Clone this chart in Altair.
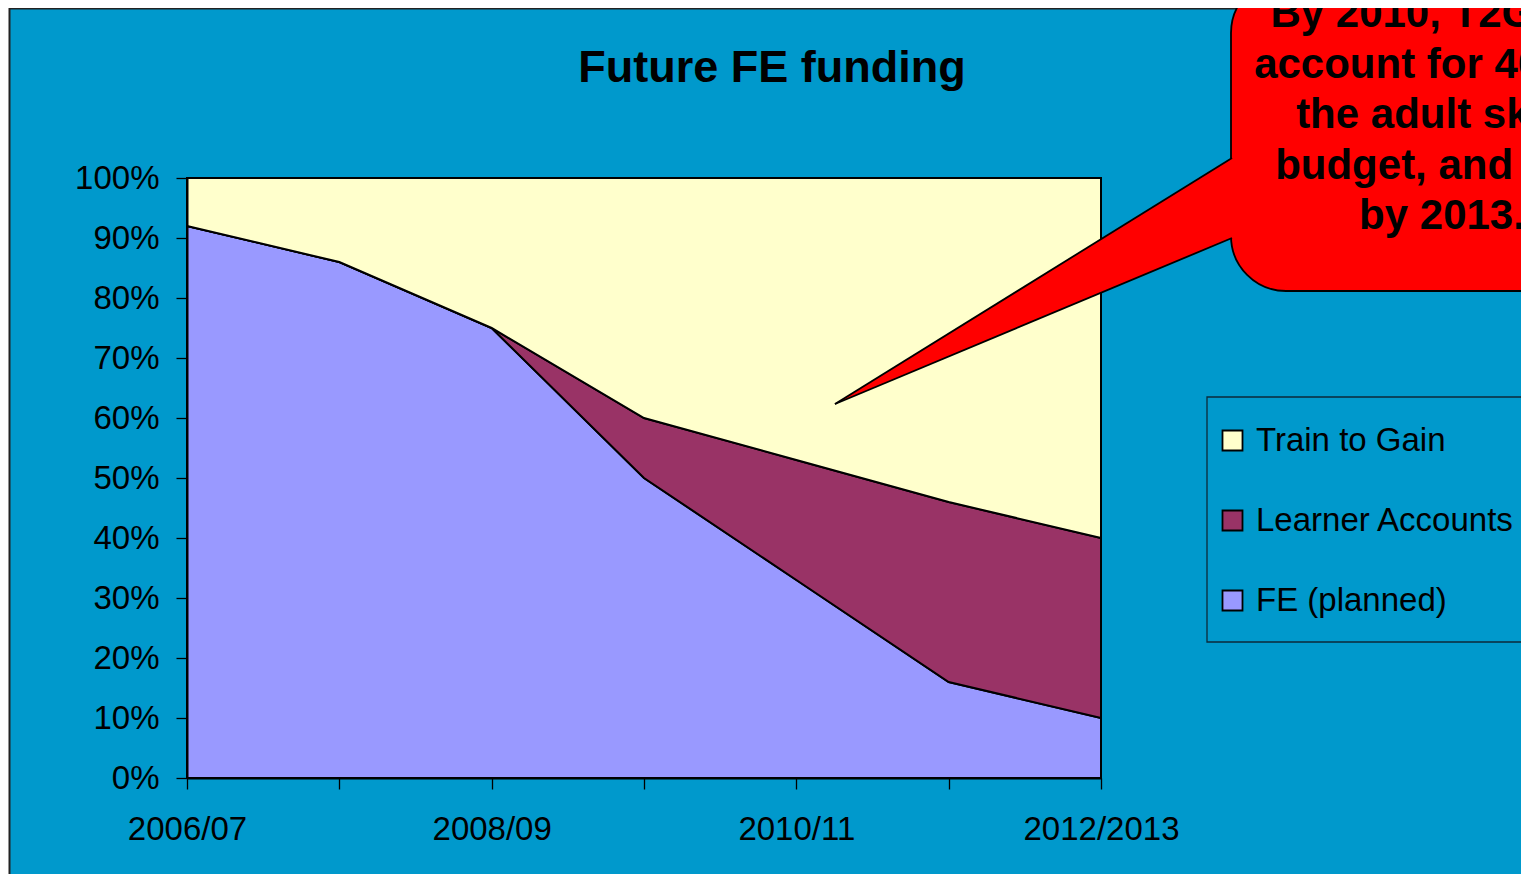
import altair as alt
import pandas as pd

# ---- data ----
years = ["2006/07", "2007/08", "2008/09", "2009/10", "2010/11", "2011/12", "2012/2013"]
fe_planned = [92, 86, 75, 50, 33, 16, 10]
learner_accounts = [0, 0, 0, 10, 20, 30, 30]
train_to_gain = [8, 14, 25, 40, 47, 54, 60]
series_names = ["Train to Gain", "Learner Accounts", "FE (planned)"]
series_colors = ["#FFFFCC", "#993366", "#9999FF"]
y_ticks = [0, 10, 20, 30, 40, 50, 60, 70, 80, 90, 100]
hidden_labels = ["2007/08", "2009/10", "2011/12"]
title_text = "Future FE funding"
callout_lines = ["By 2010, T2G will", "account for 40% of", "the adult skills",
                 "budget, and 60%", "by 2013."]

rows = []
for i, yr in enumerate(years):
    rows.append({"year": yr, "series": "FE (planned)", "value": fe_planned[i], "ord": 0})
    rows.append({"year": yr, "series": "Learner Accounts", "value": learner_accounts[i], "ord": 1})
    rows.append({"year": yr, "series": "Train to Gain", "value": train_to_gain[i], "ord": 2})
df = pd.DataFrame(rows)

FONT = "Liberation Sans"
W, H = 914, 600          # plot area
PAD_L, PAD_T = 179, 170
TOTAL_W, TOTAL_H = 1513, 866

# ---- background panel (decoration, pixel coords relative to plot) ----
bg = alt.Chart(pd.DataFrame({"a": [0]})).mark_rect(
    fill="#0099CC", stroke="#222222", strokeWidth=2
).encode(
    x=alt.value(-PAD_L + 1.5), x2=alt.value(TOTAL_W),
    y=alt.value(-PAD_T + 0.5), y2=alt.value(TOTAL_H),
)

# ---- stacked areas ----
areas = alt.Chart(df).mark_area(
    stroke="black", strokeWidth=2, opacity=1, interpolate="linear"
).encode(
    x=alt.X("year:O", sort=years, scale=alt.Scale(type="point", padding=0),
            axis=alt.Axis(title=None, labelAngle=0, labelFont=FONT, labelFontSize=33,
                          labelColor="black", tickColor="black", tickSize=11,
                          tickWidth=1.3, domainColor="black", domainWidth=2,
                          labelPadding=24, zindex=1,
                          labelExpr="indexof(" + str(hidden_labels) + ", datum.label) >= 0 ? '' : datum.label")),
    y=alt.Y("value:Q", stack="zero", scale=alt.Scale(domain=[0, 100], nice=False),
            axis=alt.Axis(title=None, values=y_ticks, labelExpr="datum.value + '%'",
                          labelFont=FONT, labelFontSize=33, labelColor="black",
                          tickColor="black", tickSize=11, tickWidth=1.3,
                          domainColor="black", domainWidth=2, labelPadding=17,
                          grid=False, zindex=1)),
    color=alt.Color("series:N",
                    scale=alt.Scale(domain=series_names, range=series_colors),
                    legend=alt.Legend(orient="none", legendX=1029, legendY=246,
                                      title=None, symbolType="square", symbolSize=400,
                                      symbolStrokeColor="black", symbolStrokeWidth=1.8,
                                      symbolOpacity=1, labelFont=FONT, labelFontSize=33,
                                      labelColor="black", labelOffset=7, labelLimit=0,
                                      rowPadding=46, padding=0, offset=0, zindex=1)),
    order=alt.Order("ord:Q", sort="ascending"),
)

# ---- legend frame ----
legend_box = alt.Chart(pd.DataFrame({"a": [0]})).mark_rect(
    fill=None, stroke="#0b2a3a", strokeWidth=1.3
).encode(
    x=alt.value(1020), x2=alt.value(1336), y=alt.value(219), y2=alt.value(464)
)

# ---- callout ----
callout_box = alt.Chart(pd.DataFrame({"a": [0]})).mark_rect(
    fill="#FF0000", stroke="black", strokeWidth=1.8, cornerRadius=55
).encode(
    x=alt.value(1044), x2=alt.value(1500), y=alt.value(-200), y2=alt.value(113)
)

tip = (648, 226)
up_base = (1045, -20)
lo_base = (1045, 60)
ext = 6
def along(p0, p1, xn):
    t = (xn - p0[0]) / (p1[0] - p0[0])
    return p0[1] + t * (p1[1] - p0[1])

tri_fill = pd.DataFrame({
    "px": [tip[0], up_base[0] + ext],
    "py": [tip[1], along(tip, up_base, up_base[0] + ext)],
    "py2": [tip[1], along(tip, lo_base, lo_base[0] + ext)],
})
pointer = alt.Chart(tri_fill).mark_area(fill="#FF0000", opacity=1, strokeWidth=0).encode(
    x=alt.X("px:Q", scale=None), y=alt.Y("py:Q", scale=None), y2="py2:Q"
)
tri_edges = pd.DataFrame({
    "px": [tip[0], up_base[0], tip[0], lo_base[0]],
    "py": [tip[1], up_base[1], tip[1], lo_base[1]],
    "edge": ["u", "u", "l", "l"],
})
pointer_edges = alt.Chart(tri_edges).mark_line(color="black", strokeWidth=1.8).encode(
    x=alt.X("px:Q", scale=None), y=alt.Y("py:Q", scale=None), detail="edge:N"
)

callout_text = alt.Chart(pd.DataFrame({"a": [0]})).mark_text(
    font=FONT, fontSize=42, fontWeight="bold", color="black", align="center",
    baseline="alphabetic", lineHeight=50.5
).encode(
    x=alt.value(1255), y=alt.value(27 - 178), text=alt.value(callout_lines)
)

title = alt.Chart(pd.DataFrame({"a": [0]})).mark_text(
    font=FONT, fontSize=45, fontWeight="bold", color="black", align="center",
    baseline="alphabetic"
).encode(x=alt.value(772 - 187), y=alt.value(82 - 178), text=alt.value(title_text))

chart = alt.layer(
    bg, areas, legend_box, callout_box, pointer, pointer_edges, callout_text, title
).resolve_scale(x="independent", y="independent").properties(
    width=W, height=H,
    padding={"left": PAD_L, "top": PAD_T, "right": TOTAL_W - PAD_L - W,
             "bottom": TOTAL_H - PAD_T - H},
    autosize=alt.AutoSizeParams(type="none"),
    background="white",
).configure_view(stroke="black", strokeWidth=2)

chart.save("out.html", embed_options={"renderer": "svg", "actions": False})
